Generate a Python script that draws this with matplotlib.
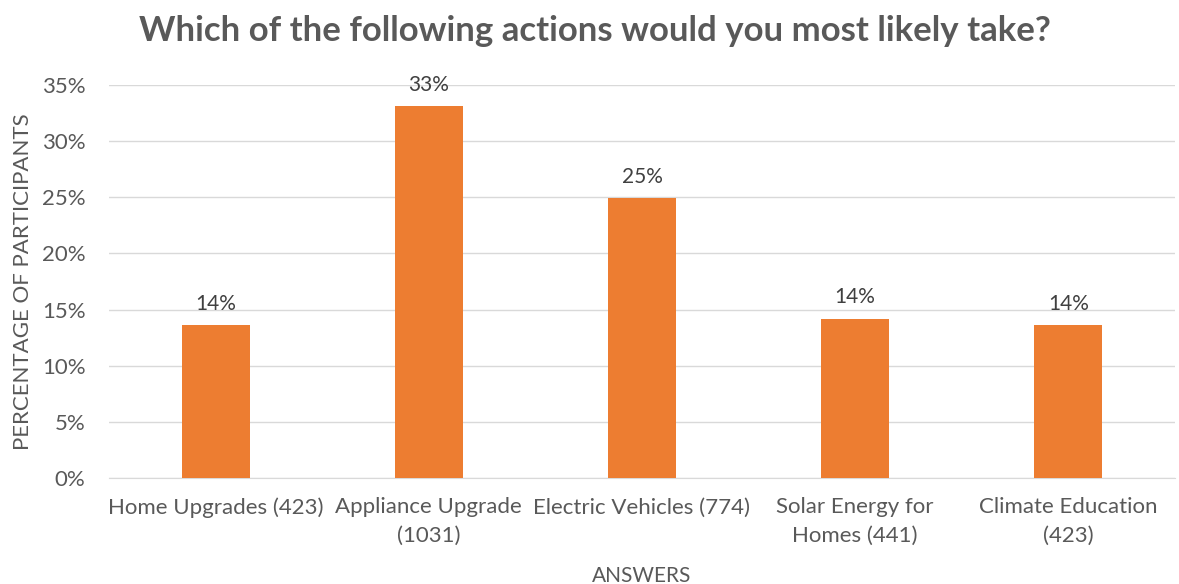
import matplotlib.pyplot as plt
from matplotlib.ticker import PercentFormatter

# данные
categories = ['Home Upgrades (423)', 'Appliance Upgrade\n(1031)', 'Electric Vehicles (774)',
              'Solar Energy for\nHomes (441)', 'Climate Education\n(423)']
shares = [0.136, 0.331, 0.249, 0.142, 0.136]
labels = ['14%', '33%', '25%', '14%', '14%']

text_color = '#595959'
bar_color = '#ed7d31'

plt.rcParams['font.family'] = ['Lato', 'DejaVu Sans']

fig = plt.figure(figsize=(11.79, 5.84), dpi=100)
ax = fig.add_axes([0.0925, 0.1815, 0.904, 0.673])

x = range(len(categories))
bars = ax.bar(x, shares, width=0.32, color=bar_color, zorder=3)

for b, lab in zip(bars, labels):
    ax.annotate(lab, (b.get_x() + b.get_width() / 2, b.get_height()),
                xytext=(0, 8), textcoords='offset points',
                ha='center', va='bottom', fontsize=15, color='#404040')

ax.set_xlim(-0.5, len(categories) - 0.5)
ax.set_ylim(0, 0.35)
ax.set_yticks([i * 0.05 for i in range(8)])
ax.yaxis.set_major_formatter(PercentFormatter(1.0, decimals=0))
ax.set_xticks(list(x))
ax.set_xticklabels(categories, linespacing=1.55)

ax.tick_params(axis='both', length=0, labelsize=16, colors=text_color)
ax.tick_params(axis='x', pad=14)
ax.tick_params(axis='y', pad=17)
ax.grid(axis='y', color='#d9d9d9', linewidth=1, zorder=0)
for s in ['top', 'right', 'left']:
    ax.spines[s].set_visible(False)
ax.spines['bottom'].set_color('#d9d9d9')

ax.set_xlabel('ANSWERS', fontsize=15, color=text_color, labelpad=14)
ax.set_ylabel('PERCENTAGE OF PARTICIPANTS', fontsize=16, color=text_color, labelpad=6)

fig.suptitle('Which of the following actions would you most likely take?',
             x=0.505, y=0.975, fontsize=25, fontweight='bold', color=text_color)

fig.savefig('out.png', dpi=100)
